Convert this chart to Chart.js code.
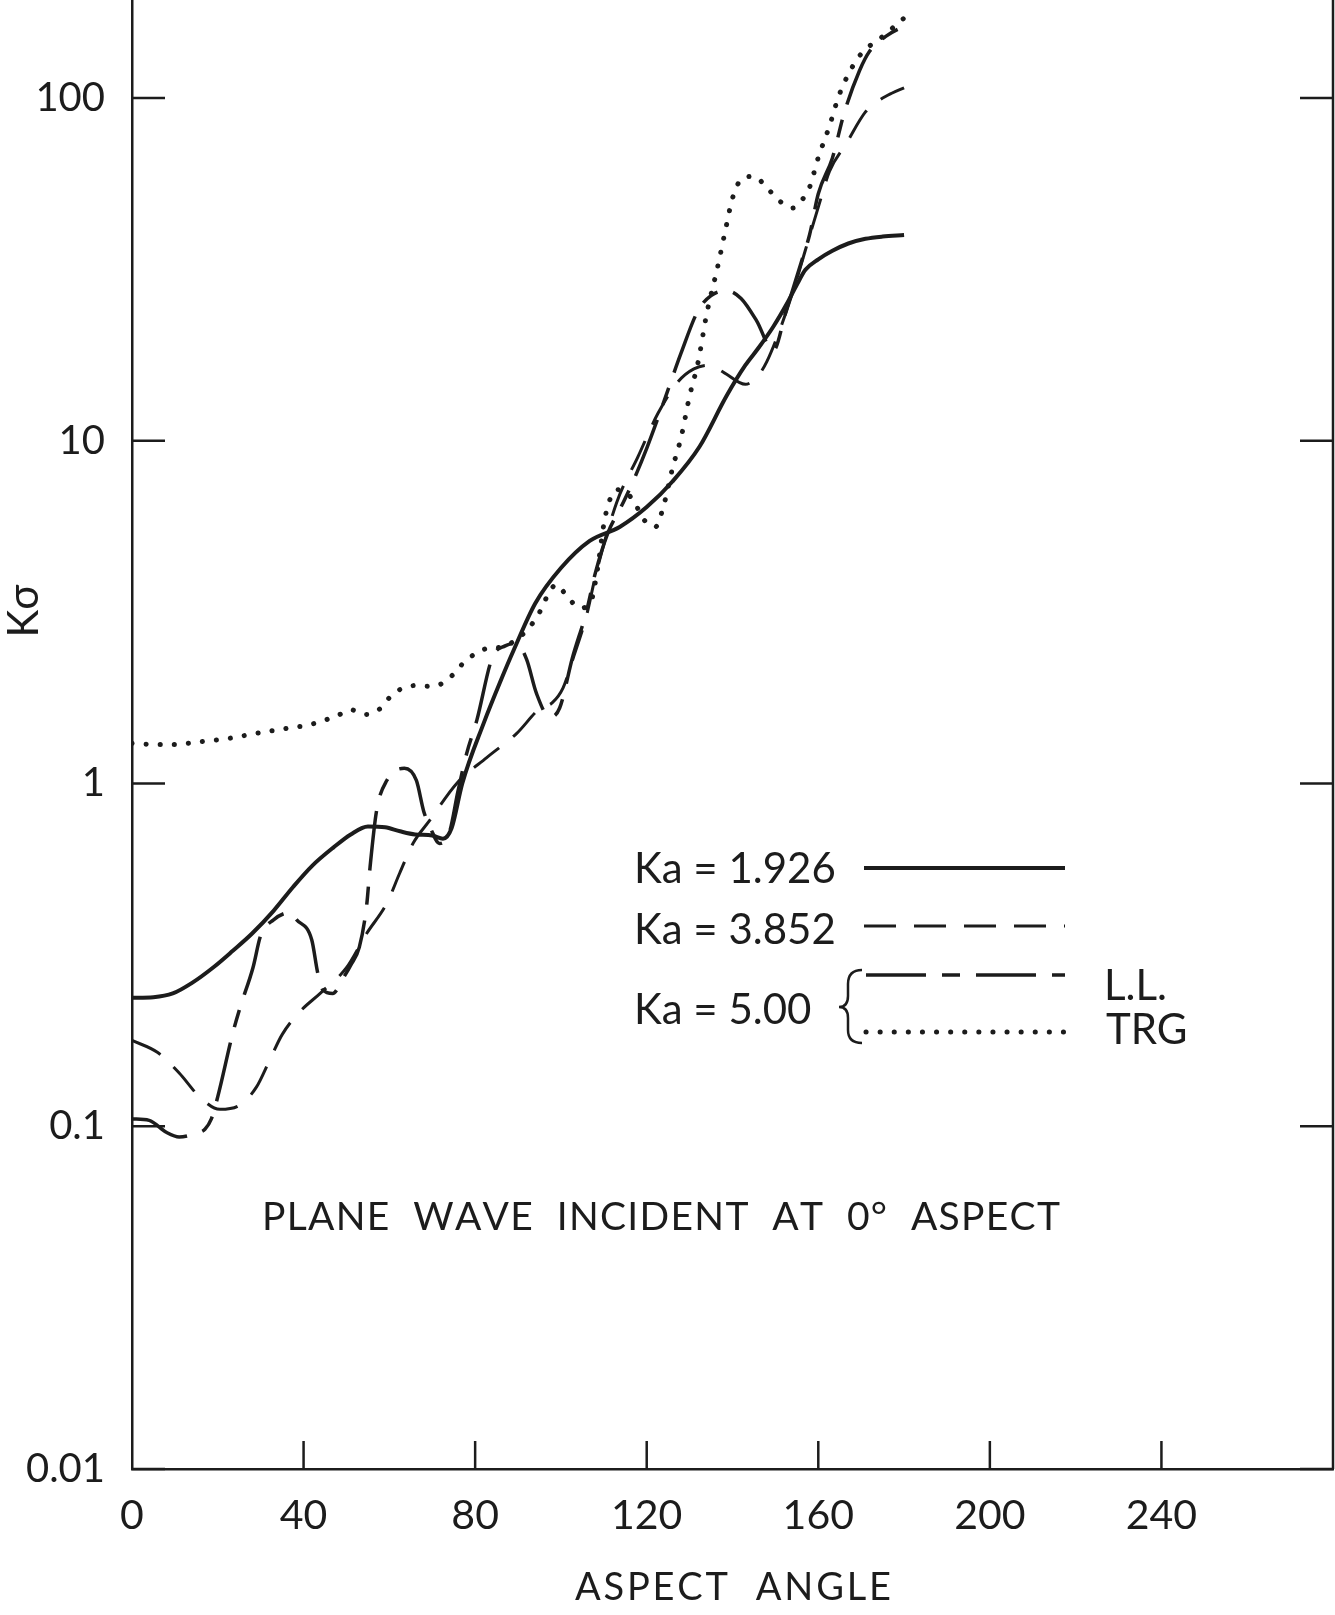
<!DOCTYPE html>
<html>
<head>
<meta charset="utf-8">
<title>K sigma versus aspect angle</title>
<script src="https://cdn.jsdelivr.net/npm/chart.js@4.4.1/dist/chart.umd.min.js"></script>
<style>
  html, body { margin: 0; padding: 0; background: #fff; }
  canvas { display: block; }
</style>
</head>
<body>
<canvas id="chart" width="1335" height="1615"></canvas>
<script>
// Ka = 1.926 (solid)
const ka1926Angle = [0, 5, 9.5, 14, 19, 23.5, 28, 33, 37.5, 42, 47, 51, 55, 59, 62.5, 66, 70, 72.5, 74.5, 77, 82, 86, 89, 94, 100, 106.7, 113.7, 120, 126, 132.3, 138.6, 143, 146, 149.5, 152.6, 155, 157, 160, 163.3, 167, 171, 175, 180];
const ka1926Sigma = [0.237, 0.238, 0.244, 0.262, 0.291, 0.325, 0.365, 0.425, 0.498, 0.575, 0.651, 0.71, 0.749, 0.745, 0.725, 0.71, 0.705, 0.69, 0.74, 1.0, 1.5, 2.0, 2.45, 3.35, 4.25, 5.1, 5.6, 6.4, 7.6, 9.6, 13.5, 16.6, 18.6, 21.5, 25, 28.5, 31.5, 33.8, 35.8, 37.6, 38.8, 39.4, 39.8];

// Ka = 3.852 (dashed)
const ka3852Angle = [0, 6, 11, 16, 20.5, 25, 29, 32, 35, 39, 44, 50, 54.7, 59.4, 62.4, 65.5, 69.4, 75.7, 82.7, 89.7, 95, 98, 100.5, 103, 106, 108, 113, 118, 122.6, 127.4, 131, 134.5, 138, 143, 146, 148, 151, 154, 157, 160, 162.6, 166.5, 171, 174, 177, 180];
const ka3852Sigma = [0.178, 0.164, 0.143, 0.121, 0.112, 0.115, 0.13, 0.155, 0.185, 0.215, 0.245, 0.29, 0.365, 0.447, 0.547, 0.668, 0.78, 1.0, 1.19, 1.4, 1.65, 1.72, 1.9, 2.35, 3.1, 4.0, 6.6, 9.0, 12, 14.9, 16.2, 16.6, 15.8, 14.6, 15.5, 17, 21, 27, 36, 48, 61, 73.5, 91, 98, 103, 107];

// Ka = 5.00, L.L. (long-short dash)
const llAngle = [0, 4, 8, 11, 15, 17, 18.5, 20, 23.5, 25.2, 28.2, 30, 33, 36.8, 38.4, 41.9, 43.3, 44.5, 46.8, 49.2, 51, 53, 54.7, 55.5, 57, 59.4, 63.5, 66.3, 68, 69.5, 71.7, 74, 76, 78, 80.4, 84, 87, 89.7, 92, 94.3, 97.4, 99.7, 102.7, 106, 108, 111, 114, 117, 120, 124, 128, 132, 135, 138.6, 142, 145.6, 149.5, 152.5, 156.3, 158, 160, 163.3, 166, 169.6, 172, 176, 180];
const llSigma = [0.105, 0.104, 0.096, 0.093, 0.0955, 0.098, 0.105, 0.122, 0.187, 0.222, 0.29, 0.36, 0.40, 0.42, 0.40, 0.35, 0.28, 0.25, 0.244, 0.27, 0.295, 0.333, 0.44, 0.57, 0.83, 1.02, 1.107, 1.02, 0.83, 0.745, 0.668, 0.72, 0.95, 1.22, 1.53, 2.33, 2.52, 2.56, 2.3, 1.83, 1.56, 1.66, 2.33, 3.19, 4.1, 5.4, 6.4, 7.7, 9.5, 13, 18, 24, 26.5, 27.4, 26, 22.4, 18.3, 23.9, 34, 40, 52.5, 66.8, 90, 120, 137, 152, 162];

// Ka = 5.00, TRG (dotted)
const trgAngle = [0, 5, 10, 15, 22, 29, 35, 42, 48, 51, 54.5, 57.5, 61, 66, 69.5, 73, 78, 82, 86, 90, 94, 99, 101.5, 104.5, 107, 108.5, 110, 111, 113, 116.5, 119.5, 122, 124, 126, 128, 130, 132, 134, 136.5, 138.5, 140, 142.5, 145, 148, 151, 154, 156, 158, 160, 162.5, 165, 169.5, 175, 180];
const trgSigma = [1.31, 1.30, 1.30, 1.32, 1.35, 1.40, 1.44, 1.49, 1.58, 1.64, 1.59, 1.64, 1.83, 1.93, 1.92, 1.98, 2.29, 2.46, 2.5, 2.65, 3.0, 3.8, 3.5, 3.25, 3.4, 4.2, 5.7, 6.5, 7.2, 6.8, 5.85, 5.6, 6.5, 8.3, 10.2, 13.5, 17, 23.5, 32, 42, 51, 58.5, 59, 54.7, 50, 47.7, 50, 55, 67, 82, 103, 132, 151, 171];

// axes
const xTickLabels = [0, 40, 80, 120, 160, 200, 240];
const yTickLabels = [0.01, 0.1, 1, 10, 100];

const ink = '#1c1c1c';
const fontFamily = 'Lato, "DejaVu Sans", sans-serif';

const pairs = (xs, ys) => xs.map((x, i) => ({ x: x, y: ys[i] }));
const isDecade = v => Math.abs(Math.log10(v) - Math.round(Math.log10(v))) < 1e-6;

// text with letters spread to a given width
function spreadText(ctx, text, left, baseline, width) {
  const chars = Array.from(text);
  const widths = chars.map(c => ctx.measureText(c).width);
  const total = widths.reduce((a, b) => a + b, 0);
  const gap = (width - total) / (chars.length - 1);
  let x = left;
  chars.forEach((c, i) => {
    ctx.fillText(c, x, baseline);
    x += widths[i] + gap;
  });
}

const datasets = [
  { label: 'Ka = 1.926', data: pairs(ka1926Angle, ka1926Sigma), borderWidth: 4, borderDash: [] },
  { label: 'Ka = 3.852', data: pairs(ka3852Angle, ka3852Sigma), borderWidth: 3, borderDash: [32, 18] },
  { label: 'L.L.', data: pairs(llAngle, llSigma), borderWidth: 3.5, borderDash: [60, 16, 18, 16] },
  { label: 'TRG', data: pairs(trgAngle, trgSigma), borderWidth: 5, borderDash: [0.1, 14], borderCapStyle: 'round' }
].map(d => Object.assign({
  borderColor: ink,
  pointRadius: 0,
  fill: false,
  cubicInterpolationMode: 'monotone',
  borderJoinStyle: 'round'
}, d));

// inward ticks, right axis, labels and key
const decorations = {
  id: 'decorations',
  afterDraw(chart) {
    const { ctx, chartArea: area, scales: { x, y } } = chart;
    ctx.save();
    ctx.strokeStyle = ink;
    ctx.fillStyle = ink;
    ctx.lineWidth = 2.5;
    ctx.setLineDash([]);

    ctx.beginPath();
    ctx.moveTo(area.right, area.top);
    ctx.lineTo(area.right, area.bottom);
    ctx.stroke();

    y.ticks.forEach(t => {
      const py = y.getPixelForValue(t.value);
      const len = isDecade(t.value) ? 33 : 16;
      ctx.beginPath();
      ctx.moveTo(area.left, py);
      ctx.lineTo(area.left + len, py);
      ctx.moveTo(area.right - len, py);
      ctx.lineTo(area.right, py);
      ctx.stroke();
    });

    x.ticks.forEach(t => {
      if (t.value <= x.min || t.value >= x.max) return;
      const px = x.getPixelForValue(t.value);
      ctx.beginPath();
      ctx.moveTo(px, area.bottom);
      ctx.lineTo(px, area.bottom - 28);
      ctx.stroke();
    });

    // axis titles
    ctx.font = `38px ${fontFamily}`;
    ctx.textBaseline = 'alphabetic';
    spreadText(ctx, 'ASPECT  ANGLE', 575, 1600, 316);

    ctx.save();
    ctx.translate(24, 611);
    ctx.rotate(-Math.PI / 2);
    ctx.font = `42px ${fontFamily}`;
    ctx.textAlign = 'center';
    ctx.textBaseline = 'middle';
    ctx.fillText('Kσ', 0, 0);
    ctx.restore();

    ctx.font = `39px ${fontFamily}`;
    spreadText(ctx, 'PLANE  WAVE  INCIDENT  AT  0°  ASPECT', 262, 1230, 798);

    // key
    ctx.font = `42px ${fontFamily}`;
    ctx.fillText('Ka = 1.926', 634, 883);
    ctx.fillText('Ka = 3.852', 634, 944);
    ctx.fillText('Ka = 5.00', 634, 1024);
    ctx.fillText('L.L.', 1104, 1000);
    ctx.fillText('TRG', 1106, 1044);

    const sampleY = [868, 926, 975, 1032];
    datasets.forEach((d, i) => {
      ctx.save();
      ctx.lineWidth = d.borderWidth;
      ctx.setLineDash(d.borderDash);
      ctx.lineCap = d.borderCapStyle || 'butt';
      ctx.beginPath();
      ctx.moveTo(i >= 2 ? 866 : 864, sampleY[i]);
      ctx.lineTo(1065, sampleY[i]);
      ctx.stroke();
      ctx.restore();
    });

    // brace
    ctx.lineWidth = 2.5;
    ctx.setLineDash([]);
    ctx.beginPath();
    ctx.moveTo(862, 970);
    ctx.quadraticCurveTo(848, 970, 848, 984);
    ctx.lineTo(848, 996);
    ctx.quadraticCurveTo(848, 1007, 839, 1007);
    ctx.quadraticCurveTo(848, 1007, 848, 1018);
    ctx.lineTo(848, 1030);
    ctx.quadraticCurveTo(848, 1043, 862, 1043);
    ctx.stroke();

    ctx.restore();
  }
};

new Chart(document.getElementById('chart').getContext('2d'), {
  type: 'line',
  data: { datasets: datasets },
  options: {
    responsive: false,
    animation: false,
    events: [],
    layout: { padding: { top: 0, right: 2, bottom: 0, left: 0 } },
    plugins: { legend: { display: false }, tooltip: { enabled: false } },
    scales: {
      x: {
        type: 'linear',
        min: 0,
        max: 280,
        grid: { display: false, drawTicks: false },
        border: { display: true, color: ink, width: 2.5 },
        ticks: {
          stepSize: 20,
          autoSkip: false,
          maxRotation: 0,
          padding: 22,
          color: ink,
          font: { family: fontFamily, size: 41 },
          callback: v => xTickLabels.includes(v) ? String(v) : null
        },
        afterFit: s => {
          s.height = 146;
          s.paddingLeft = 0;
          s.paddingRight = 0;
        }
      },
      y: {
        type: 'logarithmic',
        min: 0.01,
        max: 193,
        grid: { display: false, drawTicks: false },
        border: { display: true, color: ink, width: 2.5 },
        ticks: {
          autoSkip: false,
          padding: 27,
          color: ink,
          font: { family: fontFamily, size: 40 },
          callback: v => {
            const hit = yTickLabels.find(l => Math.abs(l - v) / l < 1e-6);
            return hit === undefined ? null : String(hit);
          }
        },
        afterBuildTicks: s => {
          const ticks = [];
          for (let e = -2; e <= 2; e++) {
            for (let m = 1; m <= 9; m++) {
              const v = m * Math.pow(10, e);
              if (v <= s.max) ticks.push({ value: v });
            }
          }
          s.ticks = ticks;
        },
        afterFit: s => {
          s.width = 132;
          s.paddingTop = 0;
          s.paddingBottom = 0;
        }
      }
    }
  },
  plugins: [decorations]
});
</script>
</body>
</html>
